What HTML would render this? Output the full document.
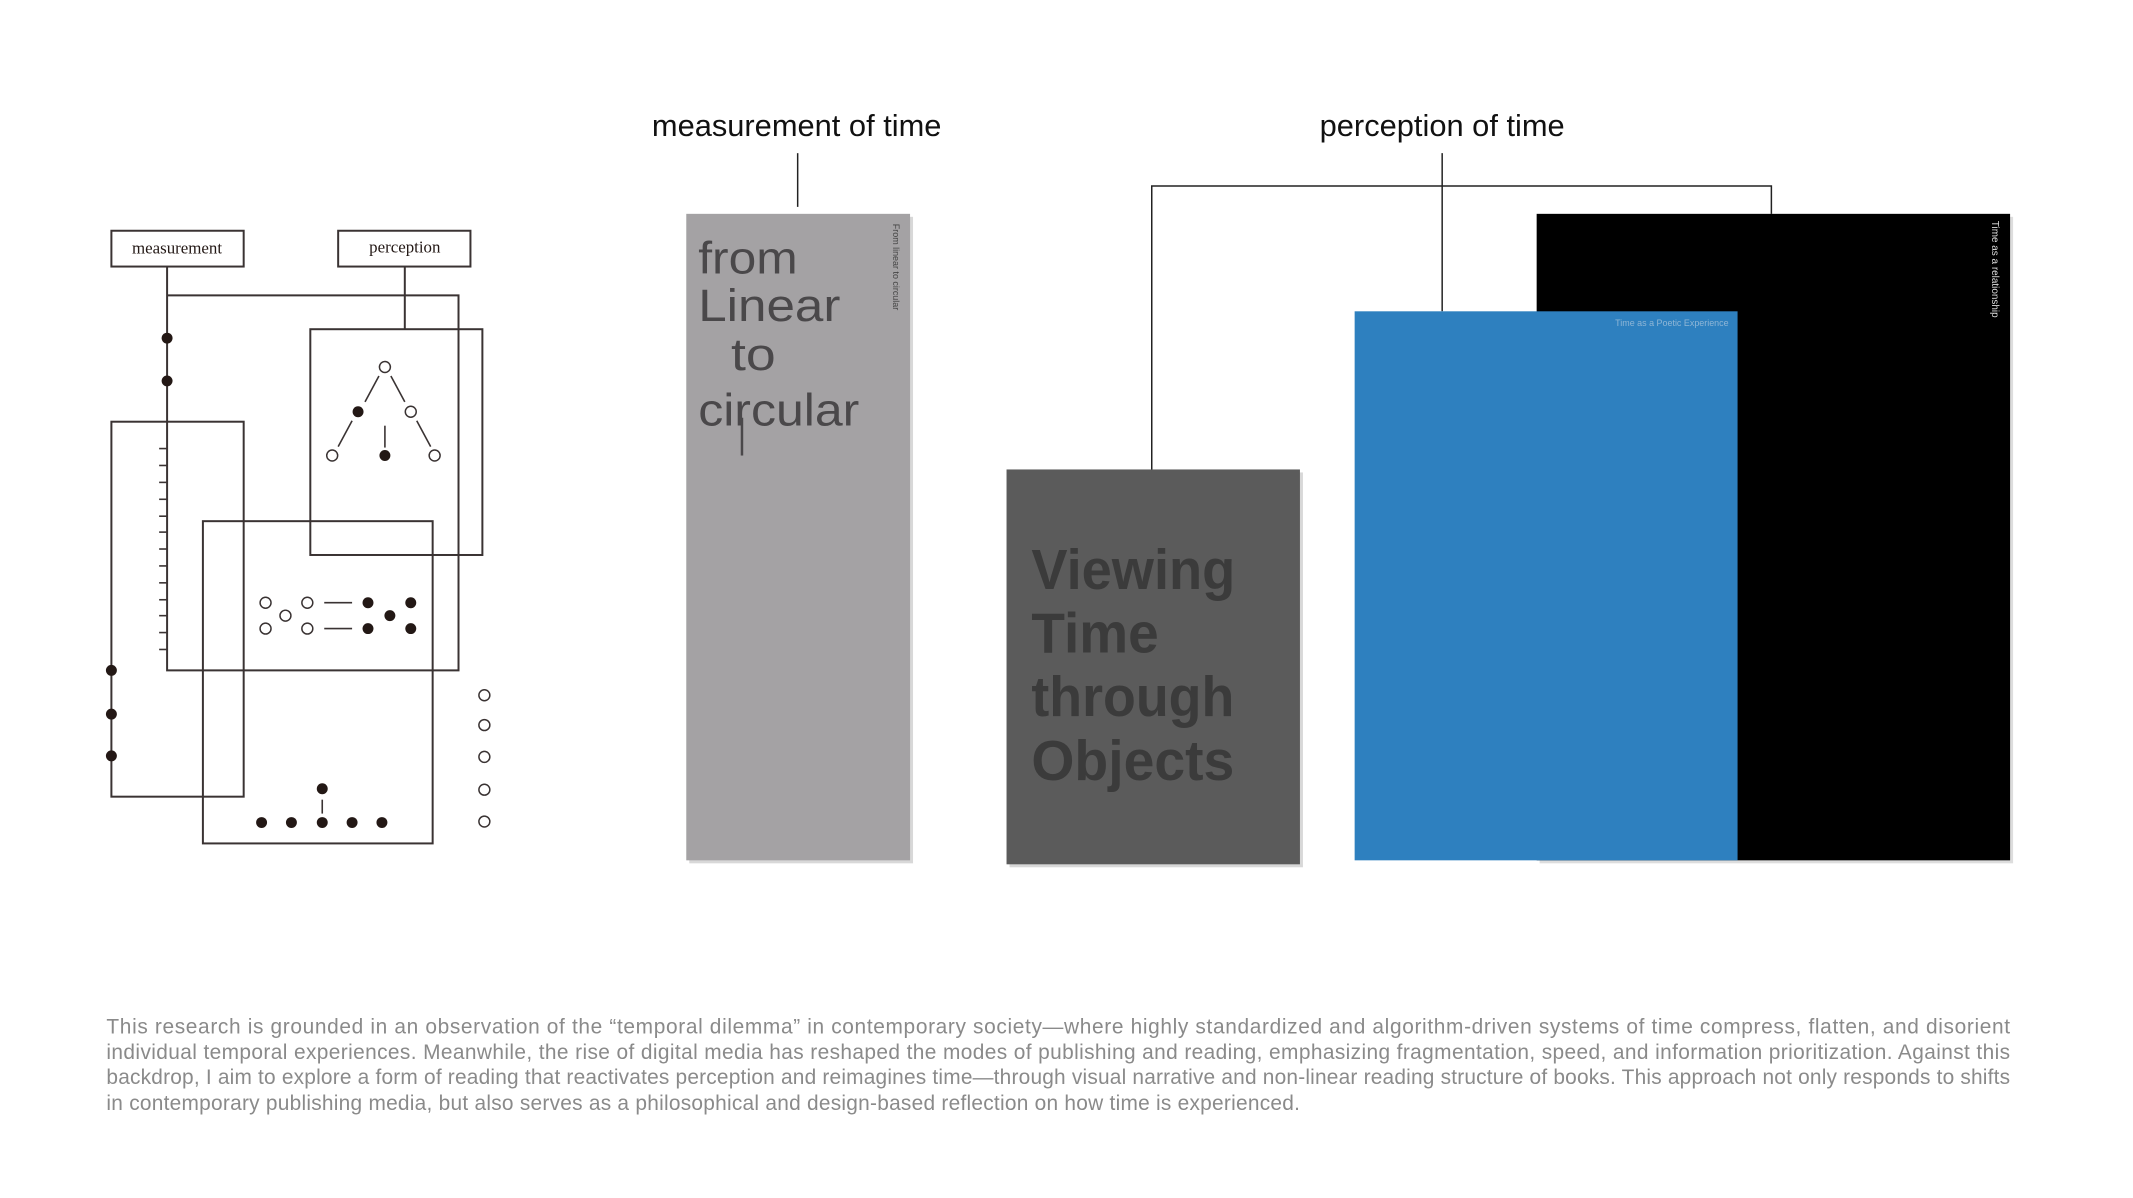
<!DOCTYPE html>
<html><head><meta charset="utf-8"><style>
html,body{margin:0;padding:0;background:#fff;}
svg{display:block;}
</style></head><body>
<svg width="2133" height="1198" viewBox="0 0 2133 1198" xmlns="http://www.w3.org/2000/svg" font-family="Liberation Sans, sans-serif">
<rect width="2133" height="1198" fill="#fff"/>
<g transform="scale(0.9946)">
<!-- left diagram -->
<g fill="none" stroke="#3a3333" stroke-width="2">
<rect x="112" y="232" width="133" height="36"/>
<rect x="340" y="232" width="133" height="36"/>
<polyline points="168,268 168,674 461,674 461,297 168,297"/>
<line x1="407" y1="268" x2="407" y2="331"/>
<rect x="312" y="331" width="173" height="227"/>
<rect x="112" y="424" width="133" height="377"/>
<rect x="204" y="524" width="231" height="324"/>
</g>
<g stroke="#3a3333" stroke-width="1.6">
<line x1="160" y1="451" x2="168" y2="451"/><line x1="160" y1="468" x2="168" y2="468"/><line x1="160" y1="485" x2="168" y2="485"/><line x1="160" y1="502" x2="168" y2="502"/><line x1="160" y1="519" x2="168" y2="519"/><line x1="160" y1="535" x2="168" y2="535"/><line x1="160" y1="552" x2="168" y2="552"/><line x1="160" y1="569" x2="168" y2="569"/><line x1="160" y1="586" x2="168" y2="586"/><line x1="160" y1="603" x2="168" y2="603"/><line x1="160" y1="619" x2="168" y2="619"/><line x1="160" y1="636" x2="168" y2="636"/><line x1="160" y1="653" x2="168" y2="653"/>
<line x1="381" y1="378" x2="367" y2="404"/><line x1="393" y1="378" x2="407" y2="404"/>
<line x1="354" y1="423" x2="340" y2="449"/><line x1="387" y1="428" x2="387" y2="450"/><line x1="419" y1="423" x2="433" y2="449"/>
<line x1="326" y1="606" x2="354" y2="606"/><line x1="326" y1="632" x2="354" y2="632"/>
<line x1="324" y1="804" x2="324" y2="818"/>
</g>
<g fill="#231815">
<circle cx="168" cy="340" r="5.5"/><circle cx="168" cy="383" r="5.5"/>
<circle cx="112" cy="674" r="5.5"/><circle cx="112" cy="718" r="5.5"/><circle cx="112" cy="760" r="5.5"/>
<circle cx="360" cy="414" r="5.5"/><circle cx="387" cy="458" r="5.5"/>
<circle cx="370" cy="606" r="5.5"/><circle cx="370" cy="632" r="5.5"/><circle cx="392" cy="619" r="5.5"/><circle cx="413" cy="606" r="5.5"/><circle cx="413" cy="632" r="5.5"/>
<circle cx="263" cy="827" r="5.5"/><circle cx="293" cy="827" r="5.5"/><circle cx="324" cy="827" r="5.5"/><circle cx="354" cy="827" r="5.5"/><circle cx="384" cy="827" r="5.5"/><circle cx="324" cy="793" r="5.5"/>
</g>
<g fill="#fff" stroke="#3a3333" stroke-width="1.5">
<circle cx="387" cy="369" r="5.5"/><circle cx="413" cy="414" r="5.5"/><circle cx="334" cy="458" r="5.5"/><circle cx="437" cy="458" r="5.5"/>
<circle cx="267" cy="606" r="5.5"/><circle cx="267" cy="632" r="5.5"/><circle cx="287" cy="619" r="5.5"/><circle cx="309" cy="606" r="5.5"/><circle cx="309" cy="632" r="5.5"/>
<circle cx="487" cy="699" r="5.5"/><circle cx="487" cy="729" r="5.5"/><circle cx="487" cy="761" r="5.5"/><circle cx="487" cy="794" r="5.5"/><circle cx="487" cy="826" r="5.5"/>
</g>
<g font-family="Liberation Serif, serif" font-size="17" fill="#231815" text-anchor="middle">
<text x="178" y="255">measurement</text><text x="407" y="254">perception</text>
</g>
<!-- headings -->
<g font-size="31" fill="#111" text-anchor="middle">
<text x="801" y="137">measurement of time</text>
<text x="1450" y="137">perception of time</text>
</g>
<g stroke="#222" stroke-width="1.5" fill="none">
<line x1="802" y1="154" x2="802" y2="208"/>
<polyline points="1158,472 1158,187 1781,187 1781,215"/>
<line x1="1450" y1="154" x2="1450" y2="313"/>
</g>
<!-- books -->
<rect x="693" y="218" width="225" height="650" fill="#d8d8d8"/>
<rect x="690" y="215" width="225" height="650" fill="#a4a2a4"/>
<g fill="#4a484a" font-size="46">
<text x="702" y="275" textLength="100" lengthAdjust="spacingAndGlyphs">from</text>
<text x="702" y="323" textLength="143" lengthAdjust="spacingAndGlyphs">Linear</text>
<text x="735" y="372" textLength="45" lengthAdjust="spacingAndGlyphs">to</text>
<text x="702" y="428" textLength="162" lengthAdjust="spacingAndGlyphs">circular</text>
</g>
<line x1="746" y1="420" x2="746" y2="458" stroke="#4a484a" stroke-width="2.5"/>
<text transform="translate(898,225) rotate(90)" font-size="9" fill="#444">From linear to circular</text>
<rect x="1015" y="475" width="295" height="397" fill="#d8d8d8"/>
<rect x="1012" y="472" width="295" height="397" fill="#5b5b5b"/>
<g fill="#3b3b3b" font-size="57" font-weight="bold">
<text x="1037" y="592" textLength="205" lengthAdjust="spacingAndGlyphs">Viewing</text>
<text x="1037" y="656" textLength="128" lengthAdjust="spacingAndGlyphs">Time</text>
<text x="1037" y="720" textLength="204" lengthAdjust="spacingAndGlyphs">through</text>
<text x="1037" y="784" textLength="204" lengthAdjust="spacingAndGlyphs">Objects</text>
</g>
<rect x="1548" y="218" width="476" height="650" fill="#ddd"/>
<rect x="1545" y="215" width="476" height="650" fill="#000"/>
<text transform="translate(2003,222) rotate(90)" font-size="10" fill="#ddd">Time as a relationship</text>
<rect x="1362" y="313" width="385" height="552" fill="#2e80bf"/>
<text x="1738" y="328" font-size="9" fill="#8fb6d6" text-anchor="end">Time as a Poetic Experience</text>
<!-- paragraph -->
<g font-size="21" fill="#8a8a8a">
<text x="107" y="1039" textLength="1914" lengthAdjust="spacing">This research is grounded in an observation of the “temporal dilemma” in contemporary society—where highly standardized and algorithm-driven systems of time compress, flatten, and disorient</text>
<text x="107" y="1065" textLength="1914" lengthAdjust="spacing">individual temporal experiences. Meanwhile, the rise of digital media has reshaped the modes of publishing and reading, emphasizing fragmentation, speed, and information prioritization. Against this</text>
<text x="107" y="1090" textLength="1914" lengthAdjust="spacing">backdrop, I aim to explore a form of reading that reactivates perception and reimagines time—through visual narrative and non-linear reading structure of books. This approach not only responds to shifts</text>
<text x="107" y="1116" textLength="1200" lengthAdjust="spacing">in contemporary publishing media, but also serves as a philosophical and design-based reflection on how time is experienced.</text>
</g>
</g>
</svg>
</body></html>
